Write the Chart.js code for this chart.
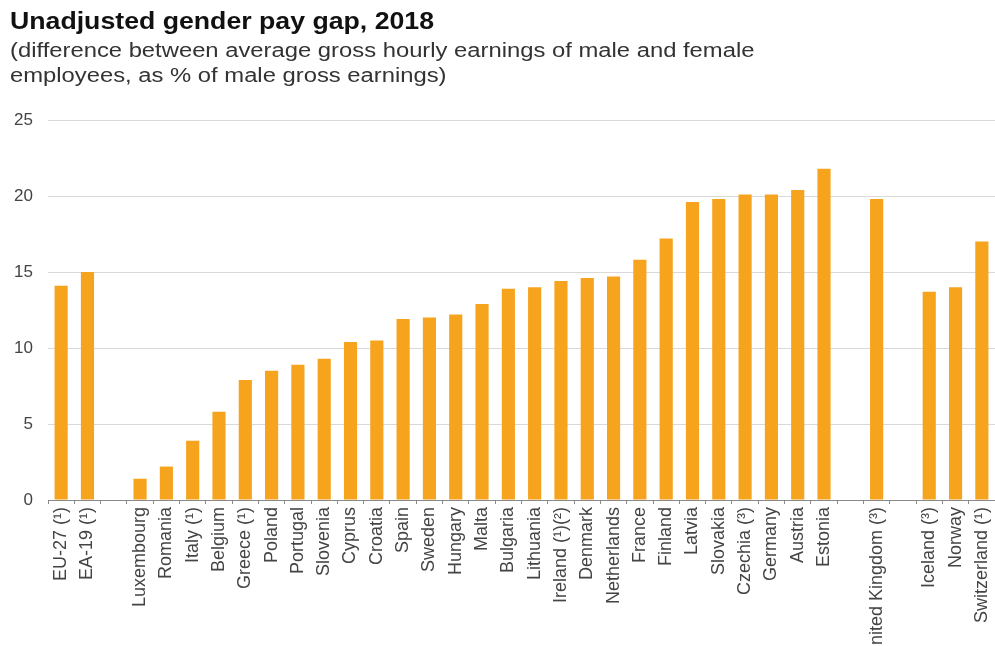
<!DOCTYPE html>
<html>
<head>
<meta charset="utf-8">
<script src="https://cdn.jsdelivr.net/npm/chart.js@4/dist/chart.umd.min.js"></script>
<style>
  body { margin: 0; background: #fff; overflow: hidden; }
  #wrap { position: relative; width: 995px; height: 646px; }
  #titre { position: absolute; left: 10px; top: 8px; font: bold 23px "Liberation Sans", Arial, sans-serif; color: #111; transform: scaleX(1.16); transform-origin: left top; white-space: nowrap; line-height: 26px; }
  #sous { position: absolute; left: 10px; top: 38px; font: 20px "Liberation Sans", Arial, sans-serif; color: #333; transform: scaleX(1.19); transform-origin: left top; white-space: nowrap; line-height: 25px; }
  canvas { position: absolute; left: 0; top: 0; }
</style>
</head>
<body>
<div id="wrap">
  <canvas id="grafico" width="995" height="646"></canvas>
  <div id="titre">Unadjusted gender pay gap, 2018</div>
  <div id="sous">(difference between average gross hourly earnings of male and female<br>employees, as % of male gross earnings)</div>
</div>
<script>
const paises = [
  "EU-27 (¹)", "EA-19 (¹)", "",
  "Luxembourg", "Romania", "Italy (¹)", "Belgium", "Greece (¹)", "Poland", "Portugal",
  "Slovenia", "Cyprus", "Croatia", "Spain", "Sweden", "Hungary", "Malta", "Bulgaria",
  "Lithuania", "Ireland (¹)(²)", "Denmark", "Netherlands", "France", "Finland", "Latvia",
  "Slovakia", "Czechia (³)", "Germany", "Austria", "Estonia", "",
  "United Kingdom (³)", "",
  "Iceland (³)", "Norway", "Switzerland (¹)"
];
const brecha = [
  14.1, 15.0, null,
  1.4, 2.2, 3.9, 5.8, 7.9, 8.5, 8.9,
  9.3, 10.4, 10.5, 11.9, 12.0, 12.2, 12.9, 13.9,
  14.0, 14.4, 14.6, 14.7, 15.8, 17.2, 19.6,
  19.8, 20.1, 20.1, 20.4, 21.8, null,
  19.8, null,
  13.7, 14.0, 17.0
];
const marcasY = [0, 5, 10, 15, 20, 25];

const fuente = '"Liberation Sans", Arial, sans-serif';

document.addEventListener("DOMContentLoaded", function () {
  const ctx = document.getElementById("grafico").getContext("2d");
  window.brechaChart = new Chart(ctx, {
    type: 'bar',
    data: {
      labels: paises,
      datasets: [{
        label: 'Gender pay gap',
        data: brecha,
        backgroundColor: '#F6A31E',
        barPercentage: 0.5,
        categoryPercentage: 1.0
      }]
    },
    options: {
      responsive: false,
      animation: false,
      layout: { padding: { top: 120, right: 0, left: 0, bottom: 0 } },
      plugins: {
        legend: { display: false },
        tooltip: { enabled: false }
      },
      scales: {
        x: {
          grid: { offset: true, drawOnChartArea: false, tickLength: 4, color: '#8a8a8a' },
          border: { color: '#8a8a8a' },
          ticks: {
            autoSkip: false,
            minRotation: 90,
            maxRotation: 90,
            padding: 3,
            color: '#444',
            font: { family: fuente, size: 18 }
          },
          afterFit: function (scale) {
            scale.height = 146;
            scale.paddingRight = 0;
            scale.paddingLeft = 0;
          }
        },
        y: {
          min: 0,
          max: 25,
          afterBuildTicks: function (scale) { scale.ticks = marcasY.map(v => ({ value: v })); },
          grid: { color: '#d9d9d9', drawTicks: false },
          border: { display: false },
          ticks: {
            padding: 15,
            color: '#444',
            font: { family: fuente, size: 17 }
          },
          afterFit: function (scale) { scale.width = 48; }
        }
      }
    }
  });
});
</script>
</body>
</html>
